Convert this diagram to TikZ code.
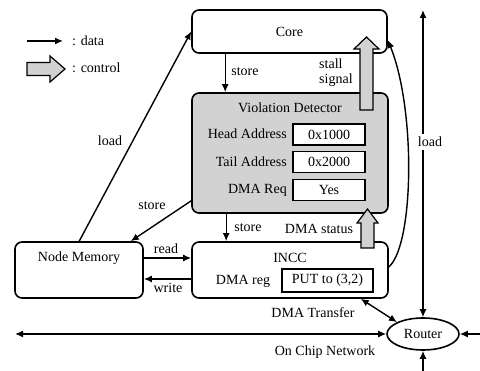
\documentclass[tikz,border=0pt]{standalone}
\usepackage{fontspec}
\setmainfont{Liberation Serif}
\newfontfamily\labelfont{Liberation Serif}
\usetikzlibrary{arrows.meta,shapes.geometric}
\begin{document}
\begin{tikzpicture}[x=1pt,y=-1pt,
  font=\labelfont\fontsize{14}{16}\selectfont,
  unit/.style={draw,line width=1.6pt,rounded corners=7pt,inner sep=0pt},
  valbox/.style={draw,fill=white,line width=1.1pt,inner sep=0pt,minimum width=72pt,minimum height=21pt},
  lbl/.style={inner sep=1pt},
  data/.style={line width=1.4pt,-{Latex[length=8pt,width=7pt]}},
  bidata/.style={line width=1.4pt,{Latex[length=8pt,width=7pt]}-{Latex[length=8pt,width=7pt]}},
  bus/.style={line width=2pt,-{Latex[length=8pt,width=7pt]}},
  ctrl/.style={draw,line width=1.2pt,fill=gray!35,line join=miter}]
\useasboundingbox (0,0) rectangle (480,371);

% legend
\coordinate (legA) at (27,41);
\coordinate (legB) at (63,41);
\draw[data] (legA) -- (legB);
\node[anchor=west,inner sep=0pt] (legdata) at (72,41) {: data};
\path[ctrl] (27,62.5) -- (50,62.5) -- (50,56) -- (65,69) -- (50,82) -- (50,75.5) -- (27,75.5) -- cycle;
\node[anchor=west,inner sep=0pt] (legctrl) at (72,68) {: control};

% processing element blocks
\node[unit,minimum width=195pt,minimum height=43pt] (core) at (289.5,31.5) {Core};
\node[unit,fill=gray!35,minimum width=196pt,minimum height=120pt] (vd) at (290,153) {};
\node[lbl] (vdtitle) at (290,108) {Violation Detector};
\node[unit,minimum width=196pt,minimum height=56pt] (incc) at (290,270) {};
\node[lbl] (incctitle) at (290,258) {INCC};
\node[unit,minimum width=128pt,minimum height=56pt] (nm) at (79,270) {};
\node[lbl] (nmtitle) at (79,258) {Node Memory};

% detector registers
\node[lbl,anchor=east] (headl) at (288,134) {Head Address};
\node[valbox] (headv) at (329,134.5) {0x1000};
\node[lbl,anchor=east] (taill) at (288,162) {Tail Address};
\node[valbox] (tailv) at (329,162) {0x2000};
\node[lbl,anchor=east] (dmarl) at (288,190) {DMA Req};
\node[valbox] (dmarv) at (329,190) {Yes};

% INCC register
\node[lbl] (dmareg) at (243,281) {DMA reg};
\node[valbox,minimum width=91pt,minimum height=23pt] (putv) at (327.5,280.5) {PUT to (3,2)};

% router and network
\node[draw,ellipse,line width=1.6pt,minimum width=72pt,minimum height=32pt,inner sep=0pt] (router) at (423,334) {Router};
\coordinate (nettop) at (423,10);
\coordinate (netleft) at (15,334);
\coordinate (netright) at (482,334);
\coordinate (netbot) at (423,380);

% data connections
\draw[data] ([xshift=34pt]core.south west) -- ([xshift=34pt]vd.north west);
\node[lbl] (st1) at (245,72) {store};
\draw[data] ([xshift=35pt]vd.south west) -- ([xshift=35pt]incc.north west);
\node[lbl] (st2) at (248,228) {store};
\draw[data] ([xshift=65pt]nm.north west) -- (core.west);
\node[lbl] (ld1) at (110,141) {load};
\draw[data] ([yshift=13pt]vd.south west) -- ([xshift=-13pt]nm.north east);
\node[lbl] (st3) at (152,206) {store};
\draw[bus] ([yshift=12pt]nm.east) -- ([yshift=12pt]incc.west);
\node[lbl] (rd) at (166,249) {read};
\draw[bus] ([yshift=-9pt]incc.west) -- ([yshift=-9pt]nm.east);
\node[lbl] (wr) at (168,288) {write};
\draw[data] ([yshift=3pt]incc.east) .. controls (414,245) and (416,110) .. ([yshift=-8.5pt]core.east);
\draw[bidata] (nettop) -- (router.north);
\node[lbl,fill=white,inner sep=3pt] (ld2) at (430,142) {load};
\draw[bidata] (netleft) -- (router.west);
\node[lbl] (ocn) at (325,352) {On Chip Network};
\draw[data] (netright) -- (router.east);
\draw[bidata] (router.south) -- (netbot);
\draw[bidata] ([xshift=-28pt]incc.south east) -- (router.north west);
\node[lbl] (dmat) at (313,313) {DMA Transfer};

% control signals
\path[ctrl] (360,110) -- (360,49) -- (354,49) -- (366.5,37) -- (379,49) -- (373,49) -- (373,110) -- cycle;
\node[lbl,anchor=west,align=left,font=\labelfont\fontsize{14}{15}\selectfont] (stall) at (318,72.5) {stall\\signal};
\path[ctrl] (361,248) -- (361,223) -- (357,223) -- (367.5,209) -- (378,223) -- (374,223) -- (374,248) -- cycle;
\node[lbl] (dmas) at (319,229) {DMA status};
\end{tikzpicture}
\end{document}
